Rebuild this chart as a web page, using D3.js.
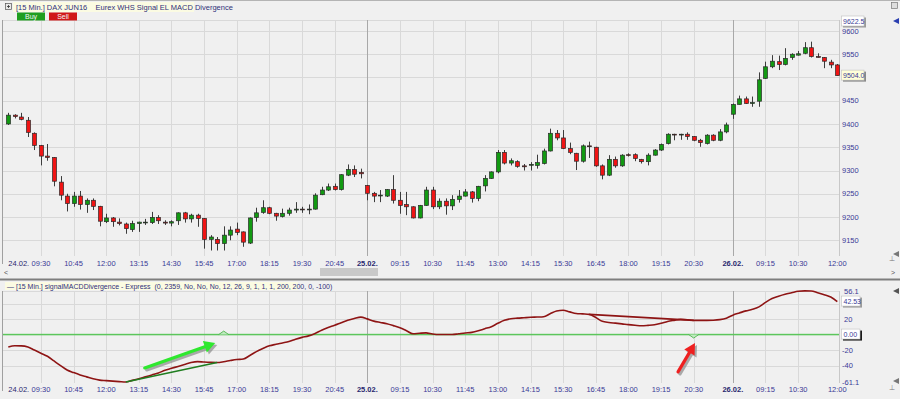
<!DOCTYPE html>
<html>
<head>
<meta charset="utf-8">
<script src="https://cdn.jsdelivr.net/npm/d3@7/dist/d3.min.js"></script>
<style>
body { margin: 0; background: #f0f0f0; overflow: hidden; }
svg { display: block; font-family: "Liberation Sans", Arial, sans-serif; }
</style>
</head>
<body>
<div id="chart"></div>
<script>
// 15 min DAX JUN16 bars, 24.02. 08:15 -> 26.02. 12:00
const openP = [9400,9419,9415,9408,9380,9354,9331,9328,9275,9245,9229,9245,9227,9236,9223,9190,9198,9189,9185,9173,
  9186,9188,9188,9199,9189,9187,9192,9209,9196,9204,9197,9152,9152,9143,9161,9174,9168,9144,9199,9210,
  9220,9208,9201,9208,9215,9217,9216,9217,9248,9258,9266,9259,9290,9302,9296,9268,9251,9246,9245,9259,
  9236,9227,9222,9198,9225,9258,9222,9234,9224,9238,9245,9254,9240,9267,9283,9297,9339,9316,9319,9310,
  9312,9311,9315,9342,9380,9370,9347,9337,9320,9353,9350,9310,9290,9324,9310,9334,9334,9324,9319,9333,
  9344,9358,9378,9377,9378,9373,9365,9358,9376,9365,9383,9421,9442,9454,9444,9449,9498,9523,9534,9528,
  9543,9548,9552,9564,9545,9543,9533,9527];
const highP = [9424,9421,9424,9415,9382,9355,9357,9329,9288,9250,9254,9256,9240,9240,9224,9207,9200,9197,9188,9192,
  9190,9196,9211,9204,9193,9193,9210,9211,9207,9207,9198,9161,9157,9180,9180,9188,9169,9199,9220,9236,
  9222,9209,9218,9220,9232,9222,9227,9251,9265,9272,9272,9292,9313,9311,9304,9269,9254,9258,9260,9290,
  9254,9254,9223,9226,9265,9265,9240,9240,9247,9258,9260,9256,9267,9290,9298,9344,9344,9326,9322,9314,
  9318,9334,9347,9390,9387,9387,9360,9338,9356,9362,9351,9313,9333,9330,9335,9337,9337,9325,9337,9346,
  9358,9380,9379,9379,9382,9374,9368,9378,9378,9389,9403,9444,9461,9459,9459,9511,9534,9548,9547,9563,
  9552,9557,9576,9577,9552,9544,9538,9529];
const lowP = [9398,9412,9408,9372,9344,9311,9321,9266,9236,9212,9222,9216,9209,9215,9180,9187,9179,9182,9164,9168,
  9168,9183,9185,9185,9183,9180,9183,9188,9188,9179,9132,9128,9128,9128,9150,9161,9136,9142,9190,9207,
  9206,9192,9199,9203,9209,9209,9206,9216,9247,9256,9257,9257,9288,9286,9283,9236,9232,9232,9243,9229,
  9207,9204,9197,9197,9224,9217,9217,9205,9215,9231,9244,9231,9234,9255,9282,9294,9313,9311,9306,9300,
  9300,9304,9313,9341,9365,9346,9335,9301,9317,9327,9308,9281,9288,9306,9308,9330,9320,9315,9311,9332,
  9342,9356,9365,9366,9366,9363,9351,9356,9363,9363,9380,9411,9442,9443,9437,9437,9497,9520,9516,9526,
  9538,9547,9550,9543,9543,9520,9520,9504];
const closeP = [9419,9416,9410,9382,9354,9331,9328,9277,9247,9229,9245,9227,9236,9223,9191,9198,9190,9186,9175,9186,
  9189,9189,9199,9192,9187,9190,9209,9196,9204,9197,9152,9157,9143,9161,9172,9167,9146,9198,9209,9220,
  9208,9202,9208,9215,9217,9216,9217,9247,9258,9265,9259,9291,9302,9292,9293,9251,9245,9247,9259,9236,
  9225,9222,9198,9225,9258,9222,9234,9224,9238,9245,9254,9240,9266,9283,9297,9339,9316,9321,9309,9308,
  9313,9317,9342,9380,9370,9347,9339,9320,9353,9352,9310,9290,9324,9310,9333,9333,9326,9319,9333,9344,
  9356,9378,9377,9378,9373,9365,9360,9376,9365,9383,9398,9442,9454,9444,9446,9495,9523,9535,9528,9541,
  9550,9551,9564,9545,9544,9535,9527,9504];

// signalMACDDivergence value per bar
const macd = [-16,-14.5,-14.6,-16,-20,-24,-28,-34,-40,-45.7,-49,-52,-54.5,-57,-58.7,-59.3,-60,-60.6,-61.1,-59,
  -57,-54.5,-52,-49.5,-46,-43.5,-41,-38.5,-36,-34.8,-35.4,-35.8,-36,-35,-33.5,-32.2,-31.5,-27,-22,-18,
  -14.5,-12.5,-10.8,-9,-6,-3.6,-1.7,1.5,5.6,9,12,15.3,18.5,20.8,22.5,20.2,17.3,15.6,14,11.5,
  8.7,4.9,1,1.7,2.2,0.7,0,0,0,1,2,2.8,4.8,7.5,10.2,14.5,18.3,20.4,21.2,21.7,
  22.2,22.6,23,26.8,30.4,31.3,29.2,27.1,26.6,26,22,17,15.6,14.7,13.8,12.8,12,11.3,11.8,12.6,
  14.5,16.8,18.3,19.6,19,18.3,18.3,18.3,18.5,19.2,21,25,27.8,30.5,32.5,35.7,41.5,46.4,49.3,51.8,
  53.8,55.8,56.3,56.1,53.8,51.3,48.3,42.5];

const tickIdx = [0,5,10,15,20,25,30,35,40,45,50,55,60,65,70,75,80,85,90,95,100,105,111,116,121,127];
const tickLabels = ["24.02.","09:30","10:45","12:00","13:15","14:30","15:45","17:00","18:15","19:30","20:45",
  "25.02.","09:15","10:30","11:45","13:00","14:15","15:30","16:45","18:00","19:15","20:30","26.02.","09:15","10:30","12:00"];
const dayIdx = [55, 111];

const priceGrid = [9150,9200,9250,9300,9350,9400,9450,9500,9550,9600];
const priceLabels = [9150,9200,9250,9300,9350,9400,9450,9550,9600];
const priceDomain = [9120.5, 9622.5];
const macdGrid = [40,20,-20,-40];
const macdLabels = [56.1,20,-20,-40,-61.1];
const macdDomain = [-61.1, 56.1];

// divergences [fromBar, toBar], markers, arrows [bar, value]
const bullDiv = [18, 32];
const bearDiv = [89, 105];
const upMarkers = [33];
const downMarkers = [105];
const greenArrow = [[20.9,-43],[31.7,-11]];
const redArrow = [[102.6,-48],[105.2,-11]];

const W = 900, H = 399;
const left = 3, right = 839;
const priceTop = 20, priceBottom = 256;
const indTop = 291, indBottom = 383;
const textCol = "#3a3a96";

const svg = d3.select("#chart").append("svg").attr("width", W).attr("height", H);

const x = d3.scaleLinear().domain([0, 127]).range([8.3, 837.3]);
const yP = d3.scaleLinear().domain(priceDomain).range([254, 20.5]);
const yM = d3.scaleLinear().domain(macdDomain).range([382, 291]);

svg.append("rect").attr("width", W).attr("height", H).attr("fill", "#f0f0f0");
svg.append("line").attr("x1", 0).attr("x2", W).attr("y1", 0.5).attr("y2", 0.5).attr("stroke", "#b4b4b4");

// grids
const grid = svg.append("g").attr("stroke", "#d9d9d9").attr("stroke-width", 1);
priceGrid.forEach(p => {
    const yy = Math.round(yP(p)) + 0.5;
    grid.append("line").attr("x1", left).attr("x2", right).attr("y1", yy).attr("y2", yy);
});
grid.append("line").attr("x1", left).attr("x2", right).attr("y1", priceTop + 0.5).attr("y2", priceTop + 0.5);
macdGrid.forEach(v => {
    const yy = Math.round(yM(v)) + 0.5;
    grid.append("line").attr("x1", left).attr("x2", right).attr("y1", yy).attr("y2", yy);
});
grid.append("line").attr("x1", left).attr("x2", right).attr("y1", indTop + 0.5).attr("y2", indTop + 0.5);
tickIdx.slice(1, -1).forEach(i => {
    const xx = Math.round(x(i)) + 0.5;
    const dark = dayIdx.includes(i);
    [[priceTop, priceBottom], [indTop, indBottom]].forEach(r => {
        svg.append("line").attr("x1", xx).attr("x2", xx).attr("y1", r[0]).attr("y2", r[1])
            .attr("stroke", dark ? "#a8a8a8" : "#d9d9d9");
    });
});
// panel edges
[[priceTop, priceBottom], [indTop, indBottom]].forEach(r => {
    svg.append("line").attr("x1", right + 0.5).attr("x2", right + 0.5).attr("y1", r[0]).attr("y2", r[1]).attr("stroke", "#c8c8c8");
    svg.append("line").attr("x1", 2.5).attr("x2", 2.5).attr("y1", r[0]).attr("y2", r[1] + 8).attr("stroke", "#a0a0a0");
});

// candles
const candles = svg.append("g");
openP.forEach((o, i) => {
    const c = closeP[i];
    const xx = Math.round(x(i)) + 0.5;
    candles.append("line").attr("x1", xx).attr("x2", xx)
        .attr("y1", yP(highP[i])).attr("y2", yP(lowP[i]))
        .attr("stroke", "#3c3c3c").attr("stroke-width", 1);
    const top = yP(Math.max(o, c)), bot = yP(Math.min(o, c));
    candles.append("rect")
        .attr("x", xx - 2).attr("width", 4)
        .attr("y", top).attr("height", Math.max(bot - top, 0.8))
        .attr("fill", c >= o ? "#129a12" : "#f01414")
        .attr("stroke", "#2a2a2a").attr("stroke-width", 0.7);
});

// price axis labels
const labels = svg.append("g").attr("font-size", "7.5px").attr("fill", textCol);
priceLabels.forEach(p => {
    labels.append("text").attr("x", 842).attr("y", yP(p) + 2.7).text(p);
});

function valueBox(yy, txt, fill, shadow) {
    svg.append("rect").attr("x", 843).attr("y", yy - 4).attr("width", 23).attr("height", 10).attr("fill", shadow);
    svg.append("rect").attr("x", 841.5).attr("y", yy - 5.5).attr("width", 22.5).attr("height", 10)
        .attr("fill", fill).attr("stroke", "#c0c0c0").attr("stroke-width", 0.6);
    svg.append("text").attr("x", 843).attr("y", yy + 2.2).attr("font-size", "7px").attr("fill", textCol).text(txt);
}
valueBox(yP(9622.5) + 1, "9622.5", "#ffffff", "#9a9a9a");
valueBox(yP(closeP[closeP.length - 1]), d3.format(".1f")(closeP[closeP.length - 1]), "#ffffd8", "#8a8a8a");

// time axis labels (both panels)
[265.5, 391.5].forEach(by => {
    tickIdx.forEach((i, k) => {
        const isDate = tickLabels[k].endsWith(".");
        labels.append("text")
            .attr("x", x(i))
            .attr("y", by)
            .attr("text-anchor", k === 0 ? "start" : "middle")
            .attr("font-weight", isDate && k > 0 ? "bold" : "normal")
            .attr("fill", isDate ? "#28286e" : textCol)
            .text(tickLabels[k]);
    });
});

// scroll row + separator
svg.append("rect").attr("x", 320).attr("y", 268).attr("width", 58).attr("height", 8).attr("fill", "#c9c9c9");
svg.append("text").attr("x", 4).attr("y", 274.5).attr("font-size", "7px").attr("fill", "#555").text("<");
svg.append("text").attr("x", 891).attr("y", 274.5).attr("font-size", "7px").attr("fill", "#555").text(">");
svg.append("rect").attr("x", 0).attr("y", 278.5).attr("width", W).attr("height", 2).attr("fill", "#7e7e7e");

// indicator panel zero line
svg.append("rect").attr("x", left).attr("width", right - left)
    .attr("y", yM(0) - 0.75).attr("height", 1.5)
    .attr("fill", "#5cc65c");

macdLabels.forEach(v => {
    labels.append("text").attr("x", v < 0 ? 842 : 844).attr("y", yM(v) + 2.7).text(v);
});

const macdLine = d3.line().x((d, i) => x(i)).y(d => yM(d)).curve(d3.curveMonotoneX);
svg.append("path").datum(macd).attr("d", macdLine)
    .attr("fill", "none").attr("stroke", "#8e1414").attr("stroke-width", 1.6);

// divergence lines
svg.append("line")
    .attr("x1", x(bullDiv[0])).attr("y1", yM(macd[bullDiv[0]]))
    .attr("x2", x(bullDiv[1])).attr("y2", yM(macd[bullDiv[1]]))
    .attr("stroke", "#1f7d1f").attr("stroke-width", 1.6);
svg.append("line")
    .attr("x1", x(bearDiv[0])).attr("y1", yM(macd[bearDiv[0]]))
    .attr("x2", x(bearDiv[1])).attr("y2", yM(macd[bearDiv[1]]))
    .attr("stroke", "#8e1414").attr("stroke-width", 1.6);

// signal markers on zero line
const y0 = yM(0);
upMarkers.forEach(i => {
    const xx = x(i);
    svg.append("path").attr("d", `M${xx - 5},${y0} L${xx},${y0 - 3.5} L${xx + 5},${y0}`)
        .attr("fill", "#bfe8bf").attr("stroke", "#3fae3f").attr("stroke-width", 0.8);
});
downMarkers.forEach(i => {
    const xx = x(i);
    svg.append("path").attr("d", `M${xx - 5},${y0} L${xx},${y0 + 3.5} L${xx + 5},${y0}`)
        .attr("fill", "#bfe8bf").attr("stroke", "#3fae3f").attr("stroke-width", 0.8);
});

// annotation arrows
function arrow(a, col) {
    const x1 = x(a[0][0]), y1 = yM(a[0][1]), x2 = x(a[1][0]), y2 = yM(a[1][1]);
    const ang = Math.atan2(y2 - y1, x2 - x1);
    const hl = 11, hw = 6;
    const bx = x2 - hl * Math.cos(ang), by = y2 - hl * Math.sin(ang);
    const px = -Math.sin(ang) * hw, py = Math.cos(ang) * hw;
    const head = `M${x2},${y2} L${bx + px},${by + py} L${bx - px},${by - py} Z`;
    const g = svg.append("g");
    [[2, 2, "#8c8c8c", 0.7], [0, 0, col, 1]].forEach(s => {
        const gg = g.append("g").attr("transform", `translate(${s[0]},${s[1]})`).attr("opacity", s[3]);
        gg.append("line").attr("x1", x1).attr("y1", y1).attr("x2", bx).attr("y2", by)
            .attr("stroke", s[2]).attr("stroke-width", 3.2).attr("stroke-linecap", "round");
        gg.append("path").attr("d", head).attr("fill", s[2]);
    });
}
arrow(greenArrow, "#2ee82e");
arrow(redArrow, "#ee2020");

function boxLabel(v, txt, fill, shadow) {
    const yy = yM(v);
    svg.append("rect").attr("x", 843).attr("y", yy - 4).attr("width", 19).attr("height", 10).attr("fill", shadow);
    svg.append("rect").attr("x", 841.5).attr("y", yy - 5.5).attr("width", 18.5).attr("height", 10)
        .attr("fill", fill).attr("stroke", "#c0c0c0").attr("stroke-width", 0.6);
    svg.append("text").attr("x", 843.5).attr("y", yy + 2.2).attr("font-size", "7px").attr("fill", textCol).text(txt);
}
boxLabel(macd[macd.length - 1], "42.53", "#ffffff", "#9a9a9a");
boxLabel(0, "0.00", "#ffffff", "#1a1a1a");

// headers
svg.append("rect").attr("x", 13).attr("y", 2).attr("width", 181).attr("height", 10).attr("fill", "#fbfbe2");
svg.append("rect").attr("x", 5.5).attr("y", 3.5).attr("width", 6).attr("height", 6).attr("fill", "#e8e8e8").attr("stroke", "#555").attr("stroke-width", 0.7);
svg.append("path").attr("d", "M7,6.5 H10 M8.5,5 V8").attr("stroke", "#333").attr("stroke-width", 0.8);
svg.append("text").attr("x", 16).attr("y", 9.5).attr("font-size", "7.5px").attr("fill", "#30307a")
    .style("white-space", "pre")
    .text("[15 Min.] DAX JUN16    Eurex WHS Signal EL MACD Divergence");
[["Buy", 17, "#1f9e1f"], ["Sell", 49, "#d01818"]].forEach(b => {
    svg.append("rect").attr("x", b[1]).attr("y", 12.5).attr("width", 28).attr("height", 8).attr("fill", b[2]);
    svg.append("text").attr("x", b[1] + 14).attr("y", 19).attr("text-anchor", "middle")
        .attr("font-size", "7px").attr("fill", "#f4f4f4").text(b[0]);
});

svg.append("rect").attr("x", 5).attr("y", 282).attr("width", 293).attr("height", 8).attr("fill", "#fbfbe2");
svg.append("text").attr("x", 7).attr("y", 288.5).attr("font-size", "7px").attr("fill", "#30307a")
    .style("white-space", "pre")
    .text("\u2014 [15 Min.] signalMACDDivergence - Express  (0, 2359, No, No, No, 12, 26, 9, 1, 1, 1, 200, 200, 0, -100)");

// right-edge controls
svg.append("rect").attr("x", 891.5).attr("y", 2.5).attr("width", 6).attr("height", 6).attr("fill", "#ddd").attr("stroke", "#777").attr("stroke-width", 0.7);
[[21, "#2b3fb0"], [254, "#777"], [291, "#555"], [381, "#777"]].forEach(t => {
    svg.append("path").attr("d", `M893,${t[0]} L899,${t[0] - 3} L899,${t[0] + 3} Z`).attr("fill", t[1]);
});
[259, 388].forEach(yy => {
    svg.append("text").attr("x", 889).attr("y", yy + 2).attr("font-size", "7px").attr("fill", "#777").text("\u22A5");
});
</script>
</body>
</html>
